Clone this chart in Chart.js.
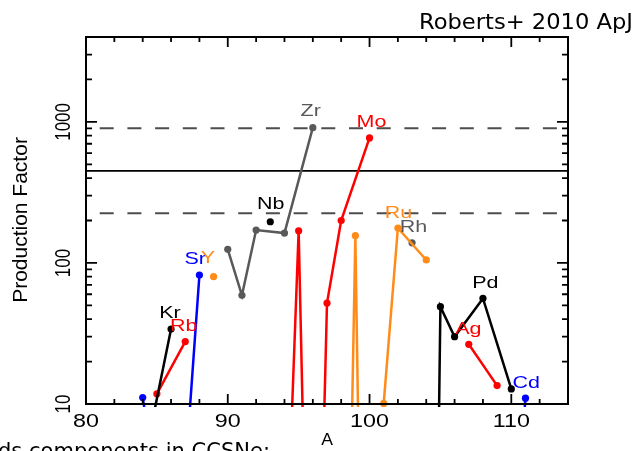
<!DOCTYPE html>
<html>
<head>
<meta charset="utf-8">
<script src="https://cdn.jsdelivr.net/npm/chart.js@4.4.0/dist/chart.umd.min.js"></script>
<style>
  html, body { margin: 0; padding: 0; background: #ffffff; overflow: hidden; }
  #wrap { position: relative; width: 637px; height: 451px; }
  canvas { display: block; }
</style>
</head>
<body>
<div id="wrap"><canvas id="pf" width="637" height="451"></canvas></div>
<script>
// Production factors of light p/weak-s/r nuclei (Kr..Cd) in a core-collapse supernova model.
// Isotope mass numbers (A) and production factors per element.
const krA = [84, 86];              const krPF = [3.5, 34];
const rbA = [85, 87];              const rbPF = [11.8, 27.7];
const srA = [84, 86, 87, 88];      const srPF = [11.1, 0.6, 3.2, 82];
const yA  = [89];                  const yPF  = [80];
const zrA = [90, 91, 92, 94, 96];  const zrPF = [125, 59, 171, 163, 910];
const nbA = [93];                  const nbPF = [196];
const moA = [92, 94, 95, 96, 97, 98, 100];
const moPF = [0.2, 0.32, 169, 0.005, 52, 200, 770];
const ruA = [98, 99, 100, 101, 102, 104];
const ruPF = [0.0006, 156, 0.00004, 10.1, 177, 105];
const rhA = [103];                 const rhPF = [139];
const pdA = [104, 105, 106, 108, 110];
const pdPF = [0.000001, 49, 30, 56, 12.8];
const agA = [107, 109];            const agPF = [26.5, 13.5];
const cdA = [110, 111];            const cdPF = [0.5, 11];

// Mean production factor and the factor-of-two band around it.
const meanPF = 450;
const bandPF = [225, 900];

// Element name tags, placed in data coordinates.
const tagNames = ['Kr', 'Rb', 'Sr', 'Y', 'Zr', 'Nb', 'Mo', 'Ru', 'Rh', 'Pd', 'Ag', 'Cd'];
const tagA     = [85.92, 86.9, 87.7, 88.6, 95.85, 93.03, 100.14, 102.04, 103.1, 108.17, 106.97, 111.06];
const tagPF    = [43.5, 35.7, 106.6, 107.5, 1178, 258, 984, 226, 180, 72, 33.5, 14.1];

// Axis ticks.
const xMajorTicks = [80, 90, 100, 110];
const xMinorTicks = [82, 84, 86, 88, 92, 94, 96, 98, 102, 104, 106, 108, 112, 114];
const yMajorTicks = [10, 100, 1000];
const yMinorTicks = [20, 30, 40, 50, 60, 70, 80, 90, 200, 300, 400, 500, 600, 700, 800, 900, 2000, 3000];

const BLACK = '#000000', GRAY = '#595959', RED = '#ff0000', BLUE = '#0000ff', ORANGE = '#ff8c1a';
const tagColors = [BLACK, RED, BLUE, ORANGE, GRAY, BLACK, RED, ORANGE, GRAY, BLACK, RED, BLUE];

function series(label, A, PF, color) {
  return {
    label: label,
    data: A.map((a, i) => ({ x: a, y: PF[i] })),
    showLine: true,
    borderColor: color,
    backgroundColor: color,
    borderWidth: 2.5,
    pointRadius: 3.6,
    pointHoverRadius: 3.6,
    pointBorderWidth: 0,
    clip: { left: 0, top: 0, right: 0, bottom: 3 }
  };
}

function level(value, color, width, dash) {
  return {
    label: 'level ' + value,
    data: [{ x: 80, y: value }, { x: 114, y: value }],
    showLine: true,
    borderColor: color,
    borderWidth: width,
    borderDash: dash,
    borderDashOffset: dash.length ? 14 : 0,
    pointRadius: 0,
    pointHoverRadius: 0
  };
}

const datasets = [
  series('Kr', krA, krPF, BLACK),
  series('Rb', rbA, rbPF, RED),
  series('Sr', srA, srPF, BLUE),
  series('Y', yA, yPF, ORANGE),
  series('Zr', zrA, zrPF, GRAY),
  series('Nb', nbA, nbPF, BLACK),
  series('Mo', moA, moPF, RED),
  series('Ru', ruA, ruPF, ORANGE),
  series('Rh', rhA, rhPF, GRAY),
  series('Pd', pdA, pdPF, BLACK),
  series('Ag', agA, agPF, RED),
  series('Cd', cdA, cdPF, BLUE),
  level(meanPF, '#000000', 1.6, []),
  level(bandPF[0], '#4d4d4d', 2, [14, 13.7]),
  level(bandPF[1], '#4d4d4d', 2, [14, 13.7])
];

// Text helper: stretched text, optionally rotated.
function text(ctx, str, x, y, size, sx, rot, color, family) {
  ctx.save();
  ctx.translate(x, y);
  ctx.scale(sx, 1);
  if (rot) ctx.rotate(rot);
  ctx.font = size + 'px ' + (family || '"Liberation Sans", Arial, sans-serif');
  ctx.fillStyle = color || '#000';
  ctx.textAlign = 'center';
  ctx.textBaseline = 'middle';
  ctx.fillText(str, 0, 0);
  ctx.restore();
}

function fitText(ctx, str, xLeft, xRight, baseline, size, family, align) {
  ctx.save();
  ctx.font = size + 'px ' + family;
  const w = ctx.measureText(str).width;
  const target = xRight - xLeft;
  ctx.translate(align === 'right' ? xRight : xLeft, baseline);
  ctx.scale(target / w, 1);
  ctx.textAlign = align === 'right' ? 'right' : 'left';
  ctx.textBaseline = 'alphabetic';
  ctx.fillStyle = '#000';
  ctx.fillText(str, 0, 0);
  ctx.restore();
}

const framePlugin = {
  id: 'frame',
  afterDatasetsDraw(chart) {
    const ctx = chart.ctx;
    const a = chart.chartArea;
    const xs = chart.scales.x, ys = chart.scales.y;
    ctx.save();
    ctx.strokeStyle = '#000';
    ctx.lineWidth = 2;
    ctx.strokeRect(a.left, a.top, a.right - a.left, a.bottom - a.top);
    ctx.lineWidth = 1.8;
    ctx.beginPath();
    const xt = (v, len) => {
      const p = xs.getPixelForValue(v);
      ctx.moveTo(p, a.bottom); ctx.lineTo(p, a.bottom - len);
      ctx.moveTo(p, a.top);    ctx.lineTo(p, a.top + len);
    };
    const yt = (v, len) => {
      const p = ys.getPixelForValue(v);
      ctx.moveTo(a.left, p);  ctx.lineTo(a.left + len, p);
      ctx.moveTo(a.right, p); ctx.lineTo(a.right - len, p);
    };
    xMajorTicks.forEach(v => xt(v, 10));
    xMinorTicks.forEach(v => xt(v, 5));
    yMajorTicks.forEach(v => yt(v, 11));
    yMinorTicks.forEach(v => yt(v, 6));
    ctx.stroke();
    ctx.restore();
  },
  afterDraw(chart) {
    const ctx = chart.ctx;
    const a = chart.chartArea;
    const xs = chart.scales.x, ys = chart.scales.y;

    // element tags
    tagNames.forEach((n, i) => {
      text(ctx, n, xs.getPixelForValue(tagA[i]), ys.getPixelForValue(tagPF[i]), 16.5, 1.3, 0, tagColors[i]);
    });

    // tick labels
    xMajorTicks.forEach(v => text(ctx, String(v), xs.getPixelForValue(v), a.bottom + 18, 18.5, 1.26, 0, '#000'));
    yMajorTicks.forEach(v => text(ctx, String(v), a.left - 22, ys.getPixelForValue(v), 17, 1.3, -Math.PI / 2, '#000'));

    // axis titles
    text(ctx, 'A', (a.left + a.right) / 2, a.bottom + 37, 16, 1.1, 0, '#000');
    text(ctx, 'Production Factor', 21, 220, 21, 1.0, -Math.PI / 2, '#000');

    // citation and caption
    const hand = '"DejaVu Sans", "Liberation Sans", sans-serif';
    fitText(ctx, 'Roberts+ 2010 ApJ', 419, 633, 28.5, 21, hand, 'right');
    fitText(ctx, 'ds components in CCSNe:', -2, 270, 458, 22, hand, 'left');
  }
};

new Chart(document.getElementById('pf'), {
  type: 'scatter',
  data: { datasets: datasets },
  options: {
    responsive: false,
    animation: false,
    devicePixelRatio: 1,
    layout: { padding: { left: 86, right: 69, top: 37, bottom: 47 } },
    plugins: { legend: { display: false }, tooltip: { enabled: false }, title: { display: false } },
    events: [],
    scales: {
      x: { type: 'linear', min: 80, max: 114, display: false },
      y: { type: 'logarithmic', min: 10, max: 4000, display: false }
    }
  },
  plugins: [framePlugin]
});
</script>
</body>
</html>
